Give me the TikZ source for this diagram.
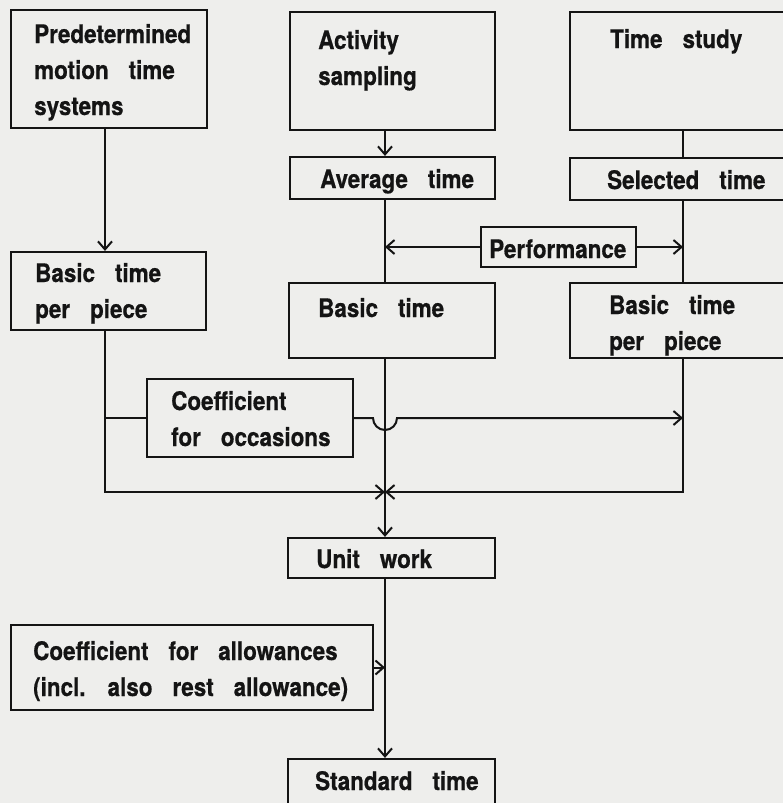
\documentclass[tikz,border=0pt]{standalone}
\usepackage{fontspec}
\setmainfont{texgyreheros}[Extension=.otf, UprightFont=*-regular, BoldFont=*-bold, FakeStretch=0.88, WordSpace=3.2, BoldFeatures={FakeBold=0.6}]
\usetikzlibrary{arrows.meta,calc}
\definecolor{paper}{HTML}{EEEEEC}
\definecolor{ink}{HTML}{141414}
\tikzset{
  box/.style={draw=ink, line width=2.2pt, rectangle, inner sep=0pt},
  lbl/.style={anchor=base west, inner sep=0pt, align=left, text=ink,
    font=\fontsize{25.5}{36}\selectfont\bfseries},
  wire/.style={draw=ink, line width=2pt},
  arr/.style={wire, -{Straight Barb[length=8pt,width=14pt,line width=2pt]}},
}
\begin{document}
\begin{tikzpicture}[x=1pt,y=1pt]
\useasboundingbox (0,0) rectangle (783,-803);
\clip (0,0) rectangle (783,-803);
\fill[paper] (0,0) rectangle (783,-803);
% column lines
\coordinate (Lx) at (105,0);
\coordinate (mx) at (385,0);
\coordinate (rx) at (683,0);
\coordinate (jl) at (373,0);
% boxes
\node[box, minimum width=196pt, minimum height=118pt] (pmts) at (109,-69) {};
\node[box, minimum width=205pt, minimum height=118pt] (act) at (392.5,-71) {};
\node[box, minimum width=240pt, minimum height=118pt] (ts) at (690,-71) {};
\node[box, minimum width=205pt, minimum height=42pt] (avg) at (392.5,-178) {};
\node[box, minimum width=240pt, minimum height=42pt] (sel) at (690,-179) {};
\node[box, minimum width=155pt, minimum height=40pt] (perf) at (558.5,-247) {};
\node[box, minimum width=195pt, minimum height=78pt] (bptL) at (108.5,-291) {};
\node[box, minimum width=206pt, minimum height=75pt] (bt) at (392,-320.5) {};
\node[box, minimum width=240pt, minimum height=75pt] (bptR) at (690,-320.5) {};
\node[box, minimum width=206pt, minimum height=78pt] (coefO) at (250,-418) {};
\node[box, minimum width=207pt, minimum height=40pt] (unit) at (391.5,-558) {};
\node[box, minimum width=362pt, minimum height=85pt] (coefA) at (192,-667.5) {};
\node[box, minimum width=207pt, minimum height=56pt] (std) at (391.5,-787) {};
% texts (anchor = baseline of last line)
\node[lbl] (pmtsT) at (34,-115) {Predetermined\\motion time\\systems};
\node[lbl] (actT) at (318,-85) {Activity\\sampling};
\node[lbl] (tsT) at (610,-48) {Time study};
\node[lbl] (avgT) at (320,-188) {Average time};
\node[lbl] (selT) at (607,-189) {Selected time};
\node[lbl] (perfT) at (489,-258) {Performance};
\node[lbl] (bptLT) at (35,-318) {Basic time\\per piece};
\node[lbl] (btT) at (318,-317) {Basic time};
\node[lbl] (bptRT) at (609,-350) {Basic time\\per piece};
\node[lbl] (coefOT) at (171,-446) {Coefficient\\for occasions};
\node[lbl] (unitT) at (316,-568) {Unit work};
\node[lbl] (coefAT) at (33,-696) {Coefficient for allowances\\(incl. also rest allowance)};
\node[lbl] (stdT) at (315,-790) {Standard time};
% junction
\coordinate (J) at (385,-492);
% connectors
\draw[arr] (pmts.south -| Lx) -- (bptL.north -| Lx);
\draw[arr] (act.south -| mx) -- (avg.north -| mx);
\draw[wire] (ts.south -| rx) -- (sel.north -| rx);
\draw[wire] (avg.south -| mx) -- (bt.north -| mx);
\draw[wire] (sel.south -| rx) -- (bptR.north -| rx);
\draw[arr] (perf.west) -- (perf.west -| mx);
\draw[arr] (perf.east) -- (perf.east -| rx);
\draw[arr] (bptL.south -| Lx) |- (J);
\draw[arr] (bptR.south -| rx) |- (J);
\draw[arr] (bt.south -| mx) -- (unit.north -| mx);
\draw[wire] (coefO.west) -- (coefO.west -| Lx);
\draw[arr] (coefO.east) -- (coefO.east -| jl) arc[start angle=180,end angle=360,radius=12pt] -- (coefO.east -| rx);
\draw[arr] (unit.south -| mx) -- (std.north -| mx);
\draw[arr] (coefA.east) -- (coefA.east -| mx);
\end{tikzpicture}
\end{document}
